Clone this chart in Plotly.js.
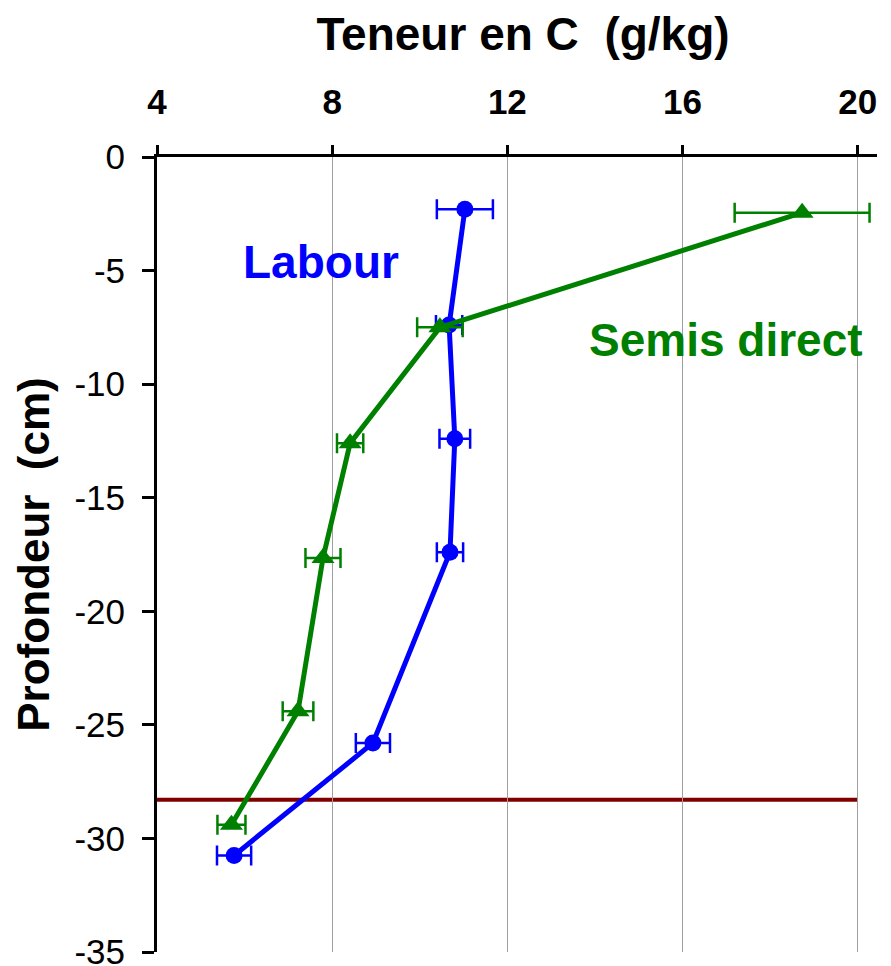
<!DOCTYPE html>
<html>
<head>
<meta charset="utf-8">
<script src="https://cdn.plot.ly/plotly-3.0.1.min.js"></script>
<style>html,body{margin:0;padding:0;background:#fff;}#chart{width:891px;height:966px;}</style>
</head>
<body>
<div id="chart"></div>
<script>
// Data
const depthLabour = [-2.3, -7.4, -12.4, -17.4, -25.8, -30.75];
const carbonLabour = [11.03, 10.67, 10.8, 10.69, 8.93, 5.76];
const errLabour = [0.64, 0.3, 0.35, 0.3, 0.39, 0.39];

const depthSemis = [-2.45, -7.5, -12.6, -17.65, -24.4, -29.4];
const carbonSemis = [18.73, 10.46, 8.41, 7.79, 7.22, 5.7];
const errSemis = [1.54, 0.52, 0.3, 0.4, 0.35, 0.32];

const limitDepth = -28.3;
const xTicks = [4, 8, 12, 16, 20];
const yTicks = [0, -5, -10, -15, -20, -25, -30, -35];
const yTickText = ['0', '-5', '-10', '-15', '-20', '-25', '-30', '-35'];

const FONT = 'Arial, "Liberation Sans", sans-serif';

const traces = [
  {
    x: carbonLabour, y: depthLabour, type: 'scatter', mode: 'lines+markers',
    name: 'Labour',
    line: {color: '#0000FF', width: 5},
    marker: {color: '#0000FF', size: 17, symbol: 'circle'},
    error_x: {type: 'data', array: errLabour, visible: true, color: '#0000FF', thickness: 2.5, width: 10}
  },
  {
    x: carbonSemis, y: depthSemis, type: 'scatter', mode: 'lines+markers',
    name: 'Semis direct',
    line: {color: '#008000', width: 5},
    marker: {color: '#008000', size: 20, symbol: 'triangle-up'},
    error_x: {type: 'data', array: errSemis, visible: true, color: '#008000', thickness: 2.5, width: 10}
  }
];

const layout = {
  width: 891, height: 966,
  paper_bgcolor: '#fff', plot_bgcolor: '#fff',
  margin: {l: 157, r: 14, t: 157, b: 14},
  showlegend: false,
  font: {family: FONT, color: '#000'},
  title: {
    text: '<b>Teneur en C  (g/kg)</b>',
    font: {family: FONT, size: 46, color: '#000'},
    x: 523 / 891, xanchor: 'center', xref: 'container', y: 1 - 34 / 966, yanchor: 'middle', yref: 'container'
  },
  xaxis: {
    side: 'top', range: [4, 20.44],
    tickvals: xTicks, ticktext: xTicks.map(v => '<b>' + v + '</b>'),
    tickfont: {family: FONT, size: 35, color: '#000'},
    ticks: 'outside', ticklen: 9, tickwidth: 3, tickcolor: '#000',
    showline: true, linecolor: '#000', linewidth: 3,
    showgrid: true, gridcolor: '#a0a0a0', gridwidth: 1,
    zeroline: false, fixedrange: true, ticklabelstandoff: 17,
    ticklabeloverflow: 'allow'
  },
  yaxis: {
    range: [-35, 0],
    tickvals: yTicks, ticktext: yTickText,
    tickfont: {family: FONT, size: 35, color: '#000'},
    ticks: 'outside', ticklen: 12, tickwidth: 3, tickcolor: '#000',
    showline: true, linecolor: '#000', linewidth: 3,
    showgrid: false, zeroline: false, fixedrange: true, ticklabelstandoff: 10,
    ticklabeloverflow: 'allow',
    title: {text: '<b>Profondeur  (cm)</b>', font: {family: FONT, size: 44, color: '#000'}, standoff: 12}
  },
  shapes: [
    {type: 'line', xref: 'x', yref: 'y', x0: 4, x1: 20, y0: limitDepth, y1: limitDepth,
     line: {color: '#800000', width: 4}, layer: 'below'}
  ],
  annotations: [
    {text: '<b>Labour</b>', x: 7.74, y: -4.63, xref: 'x', yref: 'y', showarrow: false,
     font: {family: FONT, size: 46, color: '#0000FF'}},
    {text: '<b>Semis direct</b>', x: 16.99, y: -8.06, xref: 'x', yref: 'y', showarrow: false,
     font: {family: FONT, size: 46, color: '#008000'}}
  ]
};

Plotly.newPlot('chart', traces, layout, {displayModeBar: false, staticPlot: true});
</script>
</body>
</html>
